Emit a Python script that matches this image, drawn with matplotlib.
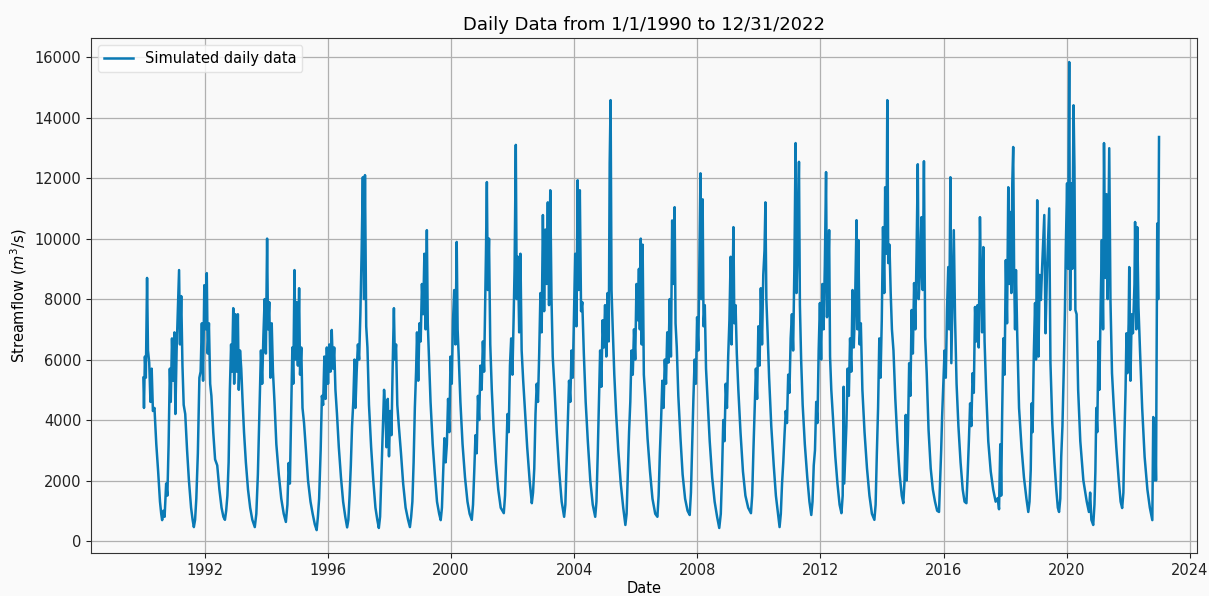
import numpy as np
import pandas as pd
import matplotlib
matplotlib.use("Agg")
import matplotlib.pyplot as plt
import matplotlib.dates as mdates

# Streamflow, one row per hydrological year (decimal year, m3/s)
dec_year = [
    1990.00, 1990.02, 1990.05, 1990.08, 1990.10, 1990.12, 1990.15, 1990.19, 1990.23, 1990.27, 1990.31, 1990.36, 1990.42, 1990.48, 1990.54, 1990.58, 1990.61, 1990.65, 1990.69, 1990.74, 1990.78,
    1990.82, 1990.86, 1990.89, 1990.93, 1990.97, 1991.01, 1991.04, 1991.08, 1991.12, 1991.16, 1991.19, 1991.23, 1991.27, 1991.31, 1991.36, 1991.42, 1991.48, 1991.55, 1991.60, 1991.64, 1991.68, 1991.72,
    1991.77, 1991.82, 1991.86, 1991.90, 1991.94, 1991.98, 1992.02, 1992.06, 1992.09, 1992.13, 1992.17, 1992.21, 1992.27, 1992.33, 1992.40, 1992.47, 1992.54, 1992.60, 1992.65, 1992.69, 1992.73,
    1992.77, 1992.81, 1992.85, 1992.88, 1992.92, 1992.95, 1992.99, 1993.03, 1993.07, 1993.10, 1993.14, 1993.18, 1993.22, 1993.27, 1993.33, 1993.40, 1993.47, 1993.54, 1993.62, 1993.67,
    1993.72, 1993.77, 1993.82, 1993.86, 1993.90, 1993.94, 1993.98, 1994.02, 1994.05, 1994.09, 1994.13, 1994.17, 1994.21, 1994.26, 1994.32, 1994.40, 1994.48, 1994.56, 1994.63, 1994.68, 1994.72, 1994.76,
    1994.80, 1994.84, 1994.87, 1994.91, 1994.94, 1994.98, 1995.02, 1995.06, 1995.09, 1995.13, 1995.17, 1995.22, 1995.28, 1995.35, 1995.43, 1995.50, 1995.57, 1995.63, 1995.67, 1995.71,
    1995.76, 1995.80, 1995.84, 1995.88, 1995.92, 1995.96, 1996.00, 1996.04, 1996.08, 1996.12, 1996.16, 1996.20, 1996.24, 1996.29, 1996.35, 1996.42, 1996.49, 1996.56, 1996.62, 1996.66, 1996.70,
    1996.74, 1996.78, 1996.82, 1996.86, 1996.89, 1996.93, 1996.97, 1997.01, 1997.05, 1997.09, 1997.13, 1997.17, 1997.20, 1997.24, 1997.28, 1997.33, 1997.40, 1997.47, 1997.54, 1997.60, 1997.65, 1997.69,
    1997.74, 1997.78, 1997.82, 1997.86, 1997.90, 1997.94, 1997.98, 1998.02, 1998.06, 1998.10, 1998.14, 1998.17, 1998.21, 1998.25, 1998.30, 1998.37, 1998.44, 1998.52, 1998.60, 1998.66, 1998.70, 1998.74,
    1998.78, 1998.82, 1998.86, 1998.89, 1998.93, 1998.97, 1999.01, 1999.05, 1999.09, 1999.13, 1999.17, 1999.21, 1999.24, 1999.28, 1999.33, 1999.40, 1999.47, 1999.54, 1999.61, 1999.66, 1999.70,
    1999.74, 1999.78, 1999.82, 1999.86, 1999.90, 1999.94, 1999.98, 2000.02, 2000.06, 2000.10, 2000.14, 2000.18, 2000.21, 2000.25, 2000.30, 2000.37, 2000.45, 2000.53, 2000.60, 2000.67, 2000.71,
    2000.75, 2000.79, 2000.83, 2000.87, 2000.91, 2000.95, 2000.99, 2001.03, 2001.07, 2001.10, 2001.13, 2001.16, 2001.19, 2001.23, 2001.27, 2001.32, 2001.38, 2001.45, 2001.53, 2001.61, 2001.71, 2001.75,
    2001.79, 2001.83, 2001.87, 2001.91, 2001.95, 2001.99, 2002.03, 2002.06, 2002.10, 2002.13, 2002.17, 2002.21, 2002.25, 2002.29, 2002.34, 2002.40, 2002.47, 2002.55, 2002.62, 2002.66, 2002.70,
    2002.74, 2002.78, 2002.82, 2002.86, 2002.90, 2002.94, 2002.98, 2003.02, 2003.06, 2003.10, 2003.14, 2003.18, 2003.22, 2003.26, 2003.30, 2003.36, 2003.43, 2003.51, 2003.59, 2003.67, 2003.71,
    2003.75, 2003.79, 2003.83, 2003.87, 2003.91, 2003.95, 2003.99, 2004.03, 2004.07, 2004.11, 2004.14, 2004.18, 2004.22, 2004.26, 2004.31, 2004.37, 2004.44, 2004.52, 2004.60, 2004.68, 2004.72,
    2004.76, 2004.80, 2004.84, 2004.88, 2004.92, 2004.96, 2005.00, 2005.04, 2005.08, 2005.12, 2005.15, 2005.18, 2005.21, 2005.25, 2005.30, 2005.36, 2005.43, 2005.51, 2005.59, 2005.66, 2005.70,
    2005.74, 2005.78, 2005.82, 2005.86, 2005.90, 2005.94, 2005.98, 2006.02, 2006.06, 2006.10, 2006.13, 2006.16, 2006.19, 2006.22, 2006.26, 2006.31, 2006.38, 2006.46, 2006.54, 2006.63, 2006.70, 2006.74,
    2006.78, 2006.82, 2006.86, 2006.90, 2006.94, 2006.98, 2007.02, 2007.06, 2007.10, 2007.14, 2007.18, 2007.22, 2007.26, 2007.29, 2007.33, 2007.38, 2007.45, 2007.52, 2007.60, 2007.68, 2007.75, 2007.79,
    2007.83, 2007.87, 2007.91, 2007.95, 2007.99, 2008.03, 2008.07, 2008.10, 2008.13, 2008.17, 2008.20, 2008.24, 2008.28, 2008.33, 2008.40, 2008.48, 2008.56, 2008.64, 2008.71, 2008.76,
    2008.80, 2008.84, 2008.88, 2008.92, 2008.96, 2009.00, 2009.04, 2009.08, 2009.11, 2009.14, 2009.17, 2009.20, 2009.24, 2009.28, 2009.33, 2009.40, 2009.48, 2009.56, 2009.65, 2009.74, 2009.78,
    2009.82, 2009.86, 2009.90, 2009.94, 2009.98, 2010.02, 2010.06, 2010.10, 2010.14, 2010.18, 2010.21, 2010.24, 2010.28, 2010.33, 2010.40, 2010.48, 2010.55, 2010.62, 2010.67, 2010.71,
    2010.75, 2010.79, 2010.83, 2010.87, 2010.91, 2010.95, 2010.99, 2011.03, 2011.07, 2011.11, 2011.15, 2011.19, 2011.22, 2011.26, 2011.30, 2011.33, 2011.37, 2011.42, 2011.49, 2011.57, 2011.64, 2011.70, 2011.74,
    2011.78, 2011.82, 2011.86, 2011.90, 2011.94, 2011.98, 2012.02, 2012.06, 2012.10, 2012.14, 2012.18, 2012.21, 2012.25, 2012.28, 2012.31, 2012.35, 2012.41, 2012.48, 2012.55, 2012.62, 2012.68, 2012.72, 2012.75, 2012.77,
    2012.80, 2012.84, 2012.88, 2012.92, 2012.96, 2013.00, 2013.04, 2013.08, 2013.12, 2013.17, 2013.20, 2013.23, 2013.27, 2013.31, 2013.36, 2013.43, 2013.51, 2013.59, 2013.67, 2013.75, 2013.79,
    2013.83, 2013.87, 2013.91, 2013.95, 2013.99, 2014.03, 2014.07, 2014.10, 2014.14, 2014.17, 2014.20, 2014.24, 2014.28, 2014.32, 2014.37, 2014.43, 2014.50, 2014.57, 2014.64, 2014.69, 2014.73,
    2014.77, 2014.80, 2014.84, 2014.88, 2014.92, 2014.96, 2015.00, 2015.04, 2015.08, 2015.12, 2015.16, 2015.19, 2015.23, 2015.28, 2015.32, 2015.36, 2015.40, 2015.45, 2015.51, 2015.58, 2015.65, 2015.72, 2015.79, 2015.85, 2015.88,
    2015.92, 2015.95, 2015.99, 2016.03, 2016.07, 2016.11, 2016.15, 2016.18, 2016.22, 2016.25, 2016.29, 2016.33, 2016.37, 2016.42, 2016.48, 2016.55, 2016.62, 2016.68, 2016.74, 2016.78,
    2016.82, 2016.86, 2016.90, 2016.94, 2016.98, 2017.02, 2017.06, 2017.10, 2017.14, 2017.18, 2017.21, 2017.25, 2017.29, 2017.33, 2017.38, 2017.45, 2017.53, 2017.61, 2017.69, 2017.76, 2017.80, 2017.84, 2017.87,
    2017.90, 2017.94, 2017.98, 2018.02, 2018.06, 2018.10, 2018.13, 2018.17, 2018.20, 2018.23, 2018.26, 2018.29, 2018.32, 2018.35, 2018.39, 2018.45, 2018.53, 2018.61, 2018.69, 2018.75, 2018.79,
    2018.83, 2018.86, 2018.89, 2018.93, 2018.97, 2019.00, 2019.04, 2019.08, 2019.12, 2019.16, 2019.20, 2019.27, 2019.31, 2019.36, 2019.43, 2019.47, 2019.53, 2019.60, 2019.66, 2019.71, 2019.75, 2019.79,
    2019.82, 2019.86, 2019.90, 2019.94, 2019.97, 2020.01, 2020.04, 2020.08, 2020.11, 2020.15, 2020.18, 2020.22, 2020.25, 2020.28, 2020.32, 2020.37, 2020.44, 2020.54, 2020.65, 2020.72, 2020.76, 2020.80, 2020.86, 2020.90,
    2020.93, 2020.96, 2020.99, 2021.03, 2021.06, 2021.10, 2021.14, 2021.18, 2021.21, 2021.25, 2021.29, 2021.33, 2021.38, 2021.42, 2021.47, 2021.53, 2021.61, 2021.69, 2021.75, 2021.80, 2021.84,
    2021.87, 2021.91, 2021.94, 2021.97, 2022.01, 2022.03, 2022.07, 2022.11, 2022.15, 2022.20, 2022.22, 2022.26, 2022.29, 2022.33, 2022.38, 2022.45, 2022.53, 2022.62, 2022.70, 2022.78, 2022.81, 2022.84, 2022.87, 2022.90, 2022.94, 2022.97, 2022.998,
]

flow = [
    5400, 4400, 6100, 5400, 7000, 8700, 6300, 5900, 4600, 5700, 4300, 4400, 3200, 2300, 1300, 900, 690, 1000, 800, 1900, 1500,
    3200, 5700, 4600, 6700, 5300, 6900, 4200, 6300, 7600, 8960, 6500, 8100, 5800, 4500, 4200, 3000, 2000, 1100, 700, 460, 700, 1400,
    2900, 5400, 5600, 7200, 5300, 8460, 7000, 8860, 6200, 7200, 5200, 4800, 3600, 2700, 2500, 1700, 1100, 800, 700, 1000, 1500,
    2600, 5000, 6500, 5600, 7700, 5200, 7500, 5600, 7500, 5000, 6300, 5700, 4700, 3600, 2600, 1700, 1100, 700, 460, 900,
    2200, 4200, 6300, 5200, 6800, 8000, 6200, 10000, 7000, 7900, 5400, 7200, 5600, 4600, 3200, 2200, 1400, 900, 630, 1200, 2580, 1900,
    4200, 6400, 5200, 8960, 6000, 7900, 5800, 8360, 5500, 6400, 4400, 3900, 3000, 2000, 1300, 900, 550, 360, 800, 1400,
    3000, 4800, 4500, 6100, 4700, 6400, 5200, 6500, 5600, 6980, 5700, 6400, 5000, 4200, 3100, 2100, 1300, 800, 450, 700, 1500,
    2500, 3800, 4600, 6000, 4400, 5600, 6500, 6000, 7500, 9500, 12030, 8000, 12100, 7100, 6400, 4500, 3100, 2000, 1100, 700, 430, 800,
    2400, 3700, 5000, 4300, 3100, 4700, 2800, 4300, 3500, 5800, 7700, 6000, 6500, 4500, 3800, 2900, 1900, 1100, 700, 460, 800, 1300,
    2600, 4400, 5600, 6900, 5300, 7200, 6600, 8500, 7500, 9500, 7000, 10280, 7200, 6000, 4600, 3200, 2200, 1300, 900, 690, 1100,
    2300, 3400, 2600, 3200, 4700, 3600, 6100, 5200, 7300, 8300, 6500, 9890, 7000, 6000, 4600, 3200, 2100, 1300, 900, 700, 1200,
    2300, 3500, 2900, 4800, 4000, 5800, 5000, 6600, 5600, 7500, 9500, 11870, 8300, 10000, 6500, 5000, 3700, 2600, 1700, 1100, 920, 1500,
    2800, 4200, 3600, 5800, 6700, 5500, 7400, 9000, 13100, 8000, 9400, 6900, 9500, 6300, 5300, 4300, 3100, 2000, 1250, 1600, 2400,
    4200, 5200, 4600, 6200, 8200, 6900, 10780, 7600, 10300, 8500, 11200, 7800, 11600, 8000, 6100, 5000, 3600, 2300, 1300, 800, 1200,
    2600, 3900, 5300, 4600, 6300, 5400, 7500, 9500, 7100, 11930, 8300, 11600, 7600, 7900, 6200, 4600, 3300, 2000, 1200, 800, 1300,
    2800, 4500, 6300, 5100, 7300, 6400, 7800, 6100, 8200, 6600, 12500, 14580, 8300, 7000, 5500, 4200, 3000, 1900, 1100, 530, 900,
    2300, 3600, 4600, 6300, 5500, 7000, 6000, 8500, 7300, 9000, 7000, 10000, 6500, 9800, 5500, 4700, 3400, 2300, 1400, 900, 800, 1500,
    2900, 4000, 5300, 4400, 6000, 5200, 6900, 5900, 8000, 6100, 10600, 8500, 11040, 7200, 6400, 4800, 3400, 2200, 1400, 1000, 860, 1600,
    3200, 4700, 6000, 5200, 7400, 6300, 9500, 12160, 8000, 11300, 7100, 7800, 5700, 4700, 3300, 2100, 1300, 800, 430, 900,
    2200, 4000, 3300, 5200, 4400, 6100, 7300, 9400, 6500, 8000, 10380, 7200, 7800, 6200, 5000, 3600, 2300, 1500, 1100, 920, 1500,
    3000, 4300, 5700, 4700, 7100, 5800, 8360, 6500, 8800, 9600, 11200, 8000, 6900, 5400, 3800, 2500, 1500, 900, 460, 900,
    1900, 2600, 3500, 4300, 3900, 5500, 4900, 6700, 7500, 6300, 9000, 13160, 8200, 10000, 12540, 7800, 6000, 4500, 3200, 2100, 1300, 860, 1300,
    2500, 3000, 4600, 3900, 6300, 7870, 6000, 8500, 7000, 9100, 12200, 7400, 8800, 10280, 6100, 5000, 4000, 2800, 1900, 1200, 920, 1500, 5100, 1900,
    2700, 3800, 5700, 4800, 6700, 5600, 8300, 6400, 7700, 10610, 7000, 9950, 6500, 7200, 5000, 3600, 2400, 1500, 900, 700, 1200,
    2900, 4400, 6700, 5400, 7300, 10380, 8200, 11700, 9500, 14580, 9190, 9800, 8200, 7000, 6300, 4700, 3300, 2200, 1500, 1250, 2000,
    4170, 2000, 3500, 5880, 4800, 7640, 6200, 8530, 7000, 9500, 12460, 8000, 8860, 10710, 8300, 12560, 6740, 5550, 3670, 2400, 1700, 1300, 1000, 960, 1800,
    3000, 4100, 5200, 6300, 5400, 7640, 9060, 7000, 12030, 5880, 8000, 10280, 7400, 5200, 3800, 2600, 1700, 1300, 1250, 2200,
    3300, 4550, 3800, 5550, 4900, 7740, 6600, 7800, 6400, 10710, 8860, 6900, 9720, 6600, 5000, 3300, 2300, 1700, 1300, 1420, 1050, 3200, 1500,
    4100, 6700, 5500, 9290, 7200, 11700, 8500, 10880, 8200, 11830, 13030, 8860, 7000, 8960, 6870, 4400, 3100, 2100, 1400, 960, 1300,
    2350, 4550, 3600, 6200, 7870, 6000, 11270, 6100, 8800, 7970, 9060, 10780, 6870, 9000, 11000, 5900, 3900, 2600, 1700, 1100, 960, 1400,
    2780, 3800, 5550, 7600, 9720, 11830, 9000, 15840, 7640, 11830, 9000, 14410, 12360, 7640, 7500, 5000, 3300, 2000, 1300, 960, 1600, 700, 530, 1200,
    2300, 4400, 3600, 6600, 5000, 7740, 9950, 7000, 13160, 8700, 11470, 8000, 12990, 7970, 5550, 4400, 3100, 2000, 1300, 1090, 1600,
    3300, 5000, 6870, 5550, 7200, 9060, 5300, 7500, 6870, 8500, 10550, 7000, 10380, 7740, 6300, 4400, 2780, 1700, 1100, 690, 4100, 2000, 3800, 2000, 10500, 8000, 13360,
]

title = "Daily Data from 1/1/1990 to 12/31/2022"
series_label = "Simulated daily data"


def main():
    t = np.array(dec_year)
    q = np.array(flow)
    dates = pd.Timestamp("1990-01-01") + pd.to_timedelta((t - 1990) * 365.25, unit="D")

    fig = plt.figure(figsize=(12.09, 5.96), dpi=100, facecolor="#fafafa")
    ax = fig.add_axes([0.0753, 0.072, 0.9147, 0.864])
    ax.set_facecolor("#f9f9f9")

    ax.plot(dates, q, color="#0a7ab5", linewidth=1.8, label=series_label)

    ax.xaxis.set_major_locator(mdates.YearLocator(4))
    ax.xaxis.set_major_formatter(mdates.DateFormatter("%Y"))
    ax.set_yticks(np.arange(0, 16001, 2000))
    ax.set_xlim(pd.Timestamp("1988-04-20"), pd.Timestamp("2024-03-25"))
    ax.set_ylim(-400, 16630)

    ax.grid(True, color="#b0b0b0", linewidth=0.9)
    ax.tick_params(labelsize=10.5, colors="#222222")
    for s in ax.spines.values():
        s.set_color("#333333")

    ax.set_title(title, fontsize=13, pad=6)
    ax.set_xlabel("Date", fontsize=10.5, labelpad=2)
    ax.set_ylabel("Streamflow ($m^3$/s)", fontsize=10.5)
    ax.legend(loc="upper left", fontsize=10.5, framealpha=0.8, edgecolor="#dddddd")

    fig.savefig("out.png", dpi=100, facecolor=fig.get_facecolor())


if __name__ == "__main__":
    main()
